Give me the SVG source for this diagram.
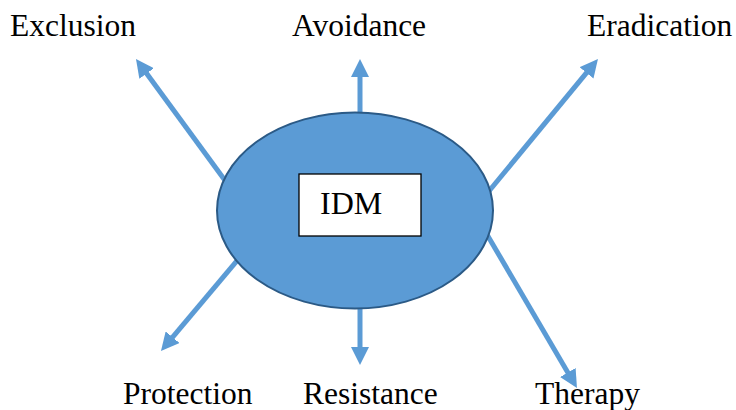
<svg xmlns="http://www.w3.org/2000/svg" width="736" height="410" viewBox="0 0 736 410">
  <style>
    .label { font-family: "Liberation Serif", "Times New Roman", serif; font-size: 31.5px; fill: #000; }
    .conn { stroke: #5B9BD5; stroke-width: 5; fill: none; marker-end: url(#head); }
  </style>
  <defs>
    <marker id="head" markerUnits="userSpaceOnUse" markerWidth="18" markerHeight="18" viewBox="0 0 18 18" refX="8" refY="9" orient="auto">
      <path d="M0,0 L18,9 L0,18 z" fill="#5B9BD5"/>
    </marker>
  </defs>
  <rect width="736" height="410" fill="#fff"/>

  <!-- connectors radiating out of the central ellipse -->
  <g id="connectors">
    <line class="conn" x1="232" y1="190" x2="141.9" y2="67.1"/>
    <line class="conn" x1="360" y1="130" x2="360" y2="69"/>
    <line class="conn" x1="480" y1="202" x2="591.6" y2="66.7"/>
    <line class="conn" x1="246" y1="250" x2="167.4" y2="343.3"/>
    <line class="conn" x1="360" y1="290" x2="360" y2="355"/>
    <line class="conn" x1="482" y1="226" x2="571.9" y2="379.4"/>
  </g>

  <g id="idm">
    <ellipse cx="355" cy="210.5" rx="138" ry="98" fill="#5B9BD5" stroke="#2B5A86" stroke-width="2"/>
    <rect x="299" y="174" width="122" height="62" fill="#fff" stroke="#000" stroke-width="1.3"/>
    <text class="label" x="320" y="214" style="font-size:32px">IDM</text>
  </g>

  <g id="exclusion"><text class="label" x="10" y="36">Exclusion</text></g>
  <g id="avoidance"><text class="label" x="292" y="36">Avoidance</text></g>
  <g id="eradication"><text class="label" x="587" y="36">Eradication</text></g>
  <g id="protection"><text class="label" x="123" y="404">Protection</text></g>
  <g id="resistance"><text class="label" x="303" y="404">Resistance</text></g>
  <g id="therapy"><text class="label" x="535" y="404">Therapy</text></g>
</svg>
